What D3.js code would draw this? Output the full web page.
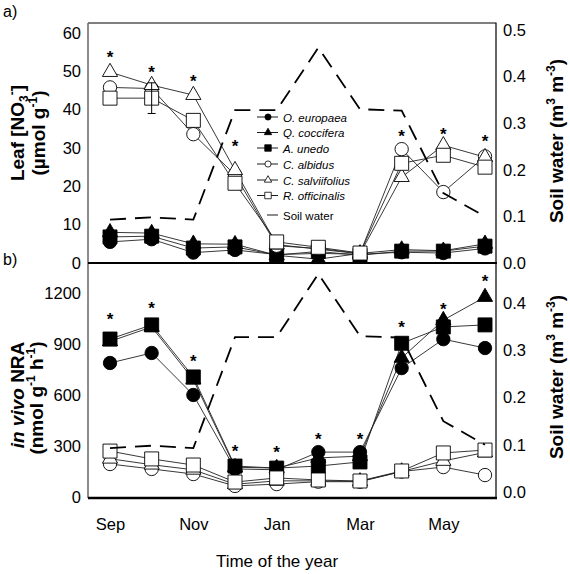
<!DOCTYPE html>
<html>
<head>
<meta charset="utf-8">
<script src="https://cdn.jsdelivr.net/npm/d3@7"></script>
<style>
body { margin: 0; background: #fff; }
svg { font-family: "Liberation Sans", Arial, sans-serif; }
</style>
</head>
<body>
<div id="chart"></div>
<script>
// sampling months, Sep .. Jun
var months = ["Sep", "Oct", "Nov", "Dec", "Jan", "Feb", "Mar", "Apr", "May", "Jun"];
var monthTicks = [0, 2, 4, 6, 8];

var speciesNames = ["O. europaea", "Q. coccifera", "A. unedo", "C. albidus", "C. salviifolius", "R. officinalis"];

// a) leaf nitrate (umol g-1)
var no3Europaea     = [5.5, 6.2, 2.7, 3.4, 2.2, 2.5, 2.3, 2.8, 2.6, 3.8];
var no3Coccifera    = [8.0, 7.8, 5.0, 4.9, 2.0, 1.0, 2.5, 3.5, 3.2, 5.0];
var no3Unedo        = [6.8, 7.0, 3.9, 4.2, 2.1, 3.0, 2.0, 3.1, 3.1, 4.4];
var no3Albidus      = [45.8, 45.5, 33.6, 23.0, 4.5, 3.8, 2.5, 29.7, 18.5, 27.8];
var no3Salviifolius = [49.8, 46.4, 43.8, 24.2, 4.8, 3.6, 2.4, 22.4, 30.7, 27.6];
var no3Officinalis  = [43.0, 43.0, 37.2, 20.8, 5.5, 4.1, 2.6, 26.0, 28.1, 25.0];
var no3OfficinalisErr = [0, 4, 0, 0, 0, 0, 0, 0, 0, 0];
var no3Stars = [54.7, 50.8, 48.4, 31.5, null, null, null, 34.1, 34.6, 32.8];

// b) in vivo NRA (nmol g-1 h-1)
var nraEuropaea     = [788, 847, 600, 165, 160, 264, 264, 758, 928, 876];
var nraCoccifera    = [915, 1000, 690, 175, 170, 230, 240, 818, 1040, 1176];
var nraUnedo        = [929, 1012, 706, 182, 170, 182, 206, 904, 1000, 1012];
var nraAlbidus      = [194, 165, 135, 65, 76, 90, 90, 150, 176, 129];
var nraSalviifolius = [225, 190, 160, 75, 95, 95, 92, 150, 212, 262];
var nraOfficinalis  = [270, 224, 188, 88, 112, 100, 94, 153, 259, 276];
var nraStars = [1071, 1135, 824, 294, 288, 365, 365, 1024, 1129, 1294];

// soil water (m3 m-3)
var soilWater = [0.093, 0.098, 0.093, 0.328, 0.328, 0.462, 0.330, 0.327, 0.150, 0.100];

var no3Ticks = [0, 10, 20, 30, 40, 50, 60];
var nraTicks = [0, 300, 600, 900, 1200];
var soilTicks = [0, 0.1, 0.2, 0.3, 0.4, 0.5];
var soilTicksB = [0, 0.1, 0.2, 0.3, 0.4];

var W = 570, H = 574;
var left = 88, right = 496, topA = 23, mid = 263, bottomB = 498;

var svg = d3.select("#chart").append("svg")
    .attr("width", W)
    .attr("height", H);

var x = d3.scaleLinear().domain([0, 9]).range([110, 485]);

var yNo3 = d3.scaleLinear().domain([0, 62.6]).range([mid, topA]);
var ySoilA = d3.scaleLinear().domain([0, 0.515]).range([mid, topA]);
var yNra = d3.scaleLinear().domain([0, 1376]).range([497, mid]);
var ySoilB = d3.scaleLinear().domain([0, 0.485]).range([492, mid]);

var shapes = {
    circle: d3.symbolCircle,
    triangle: d3.symbolTriangle,
    square: d3.symbolSquare
};
var bigSize = { circle: 140, triangle: 100, square: 196 };
var smallSize = { circle: 30, triangle: 24, square: 42 };
var shapeOf = ["circle", "triangle", "square", "circle", "triangle", "square"];
var fillOf = ["#000", "#000", "#000", "#fff", "#fff", "#fff"];

var panelA = [no3Europaea, no3Coccifera, no3Unedo, no3Albidus, no3Salviifolius, no3Officinalis];
var panelB = [nraEuropaea, nraCoccifera, nraUnedo, nraAlbidus, nraSalviifolius, nraOfficinalis];

function drawPanel(data, y, ySoil, stars) {
    var g = svg.append("g");
    var line = d3.line()
        .x(function(d, i) { return x(i); })
        .y(function(d) { return y(d); });

    data.forEach(function(vals) {
        g.append("path")
            .attr("d", line(vals))
            .attr("fill", "none")
            .attr("stroke", "#222")
            .attr("stroke-width", 0.9);
    });

    data.forEach(function(vals, s) {
        g.selectAll(null)
            .data(vals)
            .enter().append("path")
            .attr("transform", function(d, i) { return "translate(" + x(i) + "," + y(d) + ")"; })
            .attr("d", d3.symbol().type(shapes[shapeOf[s]]).size(bigSize[shapeOf[s]]))
            .attr("fill", fillOf[s])
            .attr("stroke", "#000")
            .attr("stroke-width", 0.9);
    });

    var soilLine = d3.line()
        .x(function(d, i) { return x(i); })
        .y(function(d) { return ySoil(d); });
    g.append("path")
        .attr("d", soilLine(soilWater))
        .attr("fill", "none")
        .attr("stroke", "#000")
        .attr("stroke-width", 1.8)
        .attr("stroke-dasharray", "16,9");

    var starData = stars.map(function(v, i) { return { i: i, v: v }; })
        .filter(function(d) { return d.v != null; });
    g.selectAll(null)
        .data(starData)
        .enter().append("text")
        .attr("x", function(d) { return x(d.i); })
        .attr("y", function(d) { return y(d.v); })
        .attr("dy", "0.58em")
        .attr("text-anchor", "middle")
        .attr("font-size", "17px")
        .attr("font-weight", "bold")
        .text("*");
    return g;
}

var gA = drawPanel(panelA, yNo3, ySoilA, no3Stars);

// error bar on R. officinalis (Oct)
no3Officinalis.forEach(function(v, i) {
    var e = no3OfficinalisErr[i];
    if (!e) return;
    gA.append("path")
        .attr("d", "M" + (x(i) - 4) + "," + yNo3(v + e) + "h8M" + x(i) + "," + yNo3(v + e) +
            "V" + yNo3(v - e) + "M" + (x(i) - 4) + "," + yNo3(v - e) + "h8")
        .attr("stroke", "#000")
        .attr("fill", "none")
        .attr("stroke-width", 1);
});

drawPanel(panelB, yNra, ySoilB, nraStars);

// frames
svg.append("path")
    .attr("d", "M" + left + "," + topA + "H" + right + "V" + bottomB)
    .attr("fill", "none").attr("stroke", "#000").attr("stroke-width", 1.2);
svg.append("line")
    .attr("x1", left).attr("x2", left).attr("y1", topA).attr("y2", bottomB)
    .attr("stroke", "#666").attr("stroke-width", 1.5);
svg.append("line")
    .attr("x1", left).attr("x2", right + 1).attr("y1", mid).attr("y2", mid)
    .attr("stroke", "#000").attr("stroke-width", 2);
svg.append("line")
    .attr("x1", left).attr("x2", right + 1).attr("y1", bottomB).attr("y2", bottomB)
    .attr("stroke", "#000").attr("stroke-width", 2.5);

// axes
function styleAxis(g) {
    g.select(".domain").remove();
    g.selectAll("text").attr("font-size", "16.5px").attr("fill", "#000")
        .attr("font-family", "'Liberation Sans', Arial, sans-serif");
}
svg.append("g").attr("transform", "translate(" + left + ",0)")
    .call(d3.axisLeft(yNo3).tickValues(no3Ticks).tickSize(0).tickPadding(7).tickFormat(d3.format("d")))
    .call(styleAxis);
svg.append("g").attr("transform", "translate(" + left + ",0)")
    .call(d3.axisLeft(yNra).tickValues(nraTicks).tickSize(0).tickPadding(7).tickFormat(d3.format("d")))
    .call(styleAxis);
svg.append("g").attr("transform", "translate(" + right + ",0)")
    .call(d3.axisRight(ySoilA).tickValues(soilTicks).tickSize(0).tickPadding(7).tickFormat(d3.format(".1f")))
    .call(styleAxis);
svg.append("g").attr("transform", "translate(" + right + ",0)")
    .call(d3.axisRight(ySoilB).tickValues(soilTicksB).tickSize(0).tickPadding(7).tickFormat(d3.format(".1f")))
    .call(styleAxis);
svg.append("g").attr("transform", "translate(0," + bottomB + ")")
    .call(d3.axisBottom(x).tickValues(monthTicks).tickSize(0).tickPadding(20)
        .tickFormat(function(i) { return months[i]; }))
    .call(styleAxis);

// axis titles
svg.append("text")
    .attr("x", 277).attr("y", 567)
    .attr("text-anchor", "middle")
    .attr("font-size", "17px")
    .text("Time of the year");

function rotTitle(xp, yp, angle) {
    return svg.append("text")
        .attr("transform", "translate(" + xp + "," + yp + ") rotate(" + angle + ")")
        .attr("text-anchor", "middle")
        .attr("font-size", "19px")
        .attr("font-weight", "bold");
}
var t1 = rotTitle(24, 133, -90);
t1.append("tspan").text("Leaf [NO");
t1.append("tspan").attr("font-size", "12px").attr("dy", 4).text("3");
t1.append("tspan").attr("font-size", "12px").attr("dy", -12).text("-");
t1.append("tspan").attr("dy", 8).text("]");
var t2 = rotTitle(45, 133, -90);
t2.append("tspan").text("(\u00b5mol g");
t2.append("tspan").attr("font-size", "12px").attr("dy", -8).text("-1");
t2.append("tspan").attr("dy", 8).text(")");

var t3 = rotTitle(24, 395, -90);
t3.append("tspan").attr("font-style", "italic").text("in vivo");
t3.append("tspan").text(" NRA");
var t4 = rotTitle(43, 398, -90);
t4.append("tspan").text("(nmol g");
t4.append("tspan").attr("font-size", "12px").attr("dy", -8).text("-1");
t4.append("tspan").attr("dy", 8).text(" h");
t4.append("tspan").attr("font-size", "12px").attr("dy", -8).text("-1");
t4.append("tspan").attr("dy", 8).text(")");

[141, 377].forEach(function(cy) {
    var t = rotTitle(563, cy, -90);
    t.append("tspan").text("Soil water (m");
    t.append("tspan").attr("font-size", "12px").attr("dy", -8).text("3");
    t.append("tspan").attr("dy", 8).text(" m");
    t.append("tspan").attr("font-size", "12px").attr("dy", -8).text("-3");
    t.append("tspan").attr("dy", 8).text(")");
});

svg.append("text").attr("x", 3).attr("y", 17).attr("font-size", "16px").text("a)");
svg.append("text").attr("x", 3).attr("y", 265).attr("font-size", "16px").text("b)");

// legend
var legendRows = [117, 132.5, 148, 164, 180, 195.5];
var legend = svg.append("g");
speciesNames.forEach(function(name, s) {
    var ly = legendRows[s];
    legend.append("line")
        .attr("x1", 257).attr("x2", 278).attr("y1", ly).attr("y2", ly)
        .attr("stroke", "#000").attr("stroke-width", 0.9);
    legend.append("path")
        .attr("transform", "translate(268," + ly + ")")
        .attr("d", d3.symbol().type(shapes[shapeOf[s]]).size(smallSize[shapeOf[s]]))
        .attr("fill", fillOf[s]).attr("stroke", "#000").attr("stroke-width", 0.8);
    legend.append("text")
        .attr("x", 283).attr("y", ly + 4.5)
        .attr("font-size", "11.5px")
        .attr("font-style", "italic")
        .text(name);
});
legend.append("line")
    .attr("x1", 267).attr("x2", 278).attr("y1", 215).attr("y2", 215)
    .attr("stroke", "#000").attr("stroke-width", 0.9);
legend.append("text")
    .attr("x", 283).attr("y", 219.5)
    .attr("font-size", "11.5px")
    .text("Soil water");
</script>
</body>
</html>
